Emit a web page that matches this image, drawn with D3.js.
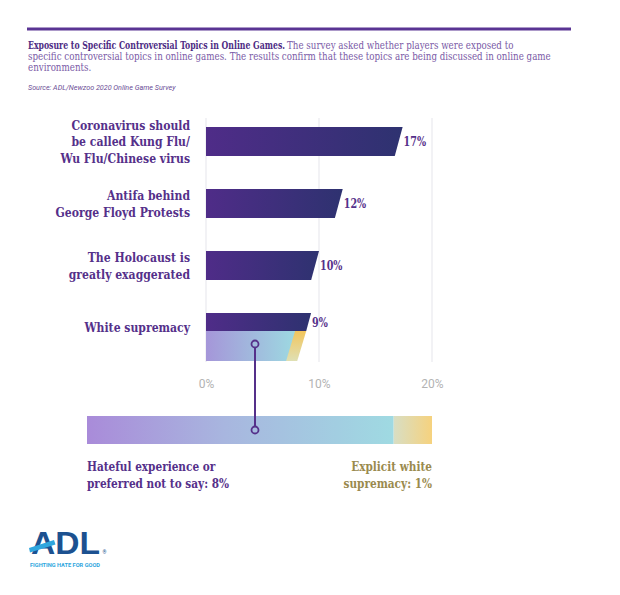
<!DOCTYPE html>
<html><head><meta charset="utf-8">
<script src="https://cdn.jsdelivr.net/npm/d3@7"></script>
<style>
body{margin:0;background:#fff;}
svg{display:block;}
.slab{font-family:"DejaVu Serif Condensed","DejaVu Serif",serif;font-stretch:condensed;}
</style></head>
<body>
<svg id="chart" width="620" height="595"></svg>
<script>
// ---- data ----
const categories = [
  ["Coronavirus should", "be called Kung Flu/", "Wu Flu/Chinese virus"],
  ["Antifa behind", "George Floyd Protests"],
  ["The Holocaust is", "greatly exaggerated"],
  ["White supremacy"]
];
const values = [17.4, 12.1, 10.0, 9.3];
const tickValues = [0, 10, 20];
const tickLabels = ["0%", "10%", "20%"];
const breakdownLabels = [["Hateful experience or", "preferred not to say: 8%"], ["Explicit white", "supremacy: 1%"]];
const breakdownValues = [8, 1];
const titleBold = "Exposure to Specific Controversial Topics in Online Games.";
const titleLines = [
  "The survey asked whether players were exposed to",
  "specific controversial topics in online games. The results confirm that these topics are being discussed in online game",
  "environments."
];
const sourceText = "Source: ADL/Newzoo 2020 Online Game Survey";

// ---- helpers ----
const svg = d3.select("#chart");
const defs = svg.append("defs");
const purple = "#55308a";
// condensed slab-serif text: horizontal scale around the anchor point
function slabText(parent, str, xx, yy, size, opts = {}) {
  const f = opts.f || 0.9;
  const t = parent.append("text").attr("class", "slab").attr("x", 0).attr("y", 0)
    .attr("transform", `translate(${xx},${yy}) scale(${f},1)`)
    .attr("font-size", size)
    .attr("font-weight", opts.weight || "normal").attr("fill", opts.fill || purple)
    .attr("text-anchor", opts.anchor || "start").text(str);
  if (opts.dy) t.attr("dy", opts.dy);
  return t;
}

// ---- scales ----
const x = d3.scaleLinear().domain([0, 20]).range([206, 432]);
const y = d3.scaleBand().domain(d3.range(categories.length)).range([127, 342]).paddingInner(0.532).paddingOuter(0);
const slantPerPx = 0.27;

// gradients
function lin(id, stops, x1="0%", x2="100%", y1="0%", y2="0%") {
  const g = defs.append("linearGradient").attr("id", id).attr("x1", x1).attr("x2", x2).attr("y1", y1).attr("y2", y2);
  stops.forEach(s => g.append("stop").attr("offset", s[0]).attr("stop-color", s[1]));
}
lin("gDark", [["0%", "#4f2c88"], ["100%", "#2e3270"]]);
lin("gLight", [["0%", "#a596d9"], ["100%", "#9dd9e1"]]);
lin("gYellow", [["0%", "#f2c55c"], ["100%", "#dfe0b4"]], "0%", "0%", "0%", "100%");
lin("gBottom", [["0%", "#a98bd9"], ["45%", "#a8b6df"], ["100%", "#9fdae2"]]);
lin("gBottomY", [["0%", "#d8dec4"], ["100%", "#f6d27e"]]);

// top rule
svg.append("rect").attr("x", 27).attr("y", 27.5).attr("width", 544).attr("height", 3).attr("fill", "#5a3494");

// title
slabText(svg, titleBold, 28, 48.5, 10.2, { weight: "bold", fill: "#4e2c84", f: 0.845 });
slabText(svg, titleLines[0], 287, 48.5, 10.2, { fill: "#7a5aa6", f: 0.95 });
titleLines.slice(1).forEach((l, i) => slabText(svg, l, 28, 59.5 + i * 11.3, 10.2, { fill: "#7a5aa6", f: 0.95 }));
svg.append("text").attr("x", 28).attr("y", 89.5).attr("font-family", "Roboto, sans-serif").attr("font-style", "italic")
  .attr("font-size", 7.2).attr("fill", "#6b4d96").text(sourceText);

// gridlines
svg.append("g").selectAll("line").data(tickValues).join("line")
  .attr("x1", d => x(d)).attr("x2", d => x(d)).attr("y1", 118).attr("y2", 362)
  .attr("stroke", "#e9e9ef").attr("stroke-width", 1.2);

// tick labels
const axis = d3.axisBottom(x).tickValues(tickValues).tickFormat((d, i) => tickLabels[i]).tickSize(0).tickPadding(0);
const ag = svg.append("g").attr("transform", "translate(0,379)").call(axis);
ag.select(".domain").remove();
ag.selectAll("text").attr("font-family", "Roboto, sans-serif").attr("font-size", 12).attr("fill", "#b3b3b3");

// bars
const darkH = i => i === categories.length - 1 ? 18 : y.bandwidth();
function slantPath(x0, x1top, top, h, slant) {
  return `M${x0},${top} L${x1top},${top} L${x1top - slant},${top + h} L${x0},${top + h} Z`;
}
values.forEach((v, i) => {
  const top = y(i), h = darkH(i);
  const sl = h * slantPerPx;
  svg.append("path").attr("d", slantPath(x(0), x(v), top, h, sl)).attr("fill", "url(#gDark)");
  slabText(svg, Math.round(v) + "%", x(v) + 1, top + h / 2, 13, { weight: "bold", dy: "0.36em", f: 0.82 });
});

// white supremacy breakdown (light part)
{
  const i = categories.length - 1;
  const v = values[i];
  const top = y(i) + darkH(i), h = 30;
  const topRight = x(v) - darkH(i) * slantPerPx;
  const sl = 9;
  const total = d3.sum(breakdownValues);
  const split = x(0) + (topRight - x(0)) * breakdownValues[0] / total;
  svg.append("path").attr("d", slantPath(x(0), topRight, top, h, sl)).attr("fill", "url(#gYellow)");
  svg.append("path").attr("d", slantPath(x(0), split, top, h, sl)).attr("fill", "url(#gLight)");
}

// category labels
categories.forEach((lines, i) => {
  const cy = y(i) + y.bandwidth() / 2;
  const lh = 16.5;
  lines.forEach((l, j) => {
    slabText(svg, l, 190, cy + (j - (lines.length - 1) / 2) * lh, 13.5, { weight: "bold", anchor: "end", dy: "0.36em", f: 0.895 });
  });
});

// bottom breakdown bar
const bx = d3.scaleLinear().domain([0, d3.sum(breakdownValues)]).range([87, 432]);
svg.append("rect").attr("x", bx(0)).attr("y", 416).attr("width", bx(breakdownValues[0]) - bx(0)).attr("height", 28).attr("fill", "url(#gBottom)");
svg.append("rect").attr("x", bx(breakdownValues[0])).attr("y", 416).attr("width", bx(d3.sum(breakdownValues)) - bx(breakdownValues[0])).attr("height", 28).attr("fill", "url(#gBottomY)");

// connector
const cxc = 255;
svg.append("line").attr("x1", cxc).attr("x2", cxc).attr("y1", 347.5).attr("y2", 426.5).attr("stroke", purple).attr("stroke-width", 2);
[344, 430].forEach(cy => svg.append("circle").attr("cx", cxc).attr("cy", cy).attr("r", 3.5).attr("fill", "none").attr("stroke", purple).attr("stroke-width", 1.8));

// breakdown labels
breakdownLabels[0].forEach((l, j) => slabText(svg, l, 87, 471 + j * 16.5, 13, { weight: "bold", f: 0.9 }));
breakdownLabels[1].forEach((l, j) => slabText(svg, l, 432, 471 + j * 16.5, 13, { weight: "bold", fill: "#9a8a4e", anchor: "end", f: 0.9 }));

// ADL logo
const logo = svg.append("g");
logo.append("text").attr("x", 31).attr("y", 554).attr("font-family", "'Liberation Sans', Arial, sans-serif").attr("font-weight", "bold")
  .attr("font-size", 31).attr("fill", "#1c5190").attr("textLength", 69).attr("lengthAdjust", "spacingAndGlyphs").text("ADL");
logo.append("path").attr("d", "M29,548 L54,540 L55.5,544.5 L30,552.5 Z").attr("fill", "#2fa6de");
logo.append("text").attr("x", 102.5).attr("y", 554).attr("font-family", "Roboto, sans-serif").attr("font-size", 5).attr("fill", "#1c5190").text("®");
logo.append("text").attr("x", 30).attr("y", 567).attr("font-family", "Roboto, sans-serif").attr("font-weight", "bold")
  .attr("font-size", 6).attr("fill", "#2fa6de").attr("textLength", 70).attr("lengthAdjust", "spacingAndGlyphs").text("FIGHTING HATE FOR GOOD");
</script>
</body></html>
